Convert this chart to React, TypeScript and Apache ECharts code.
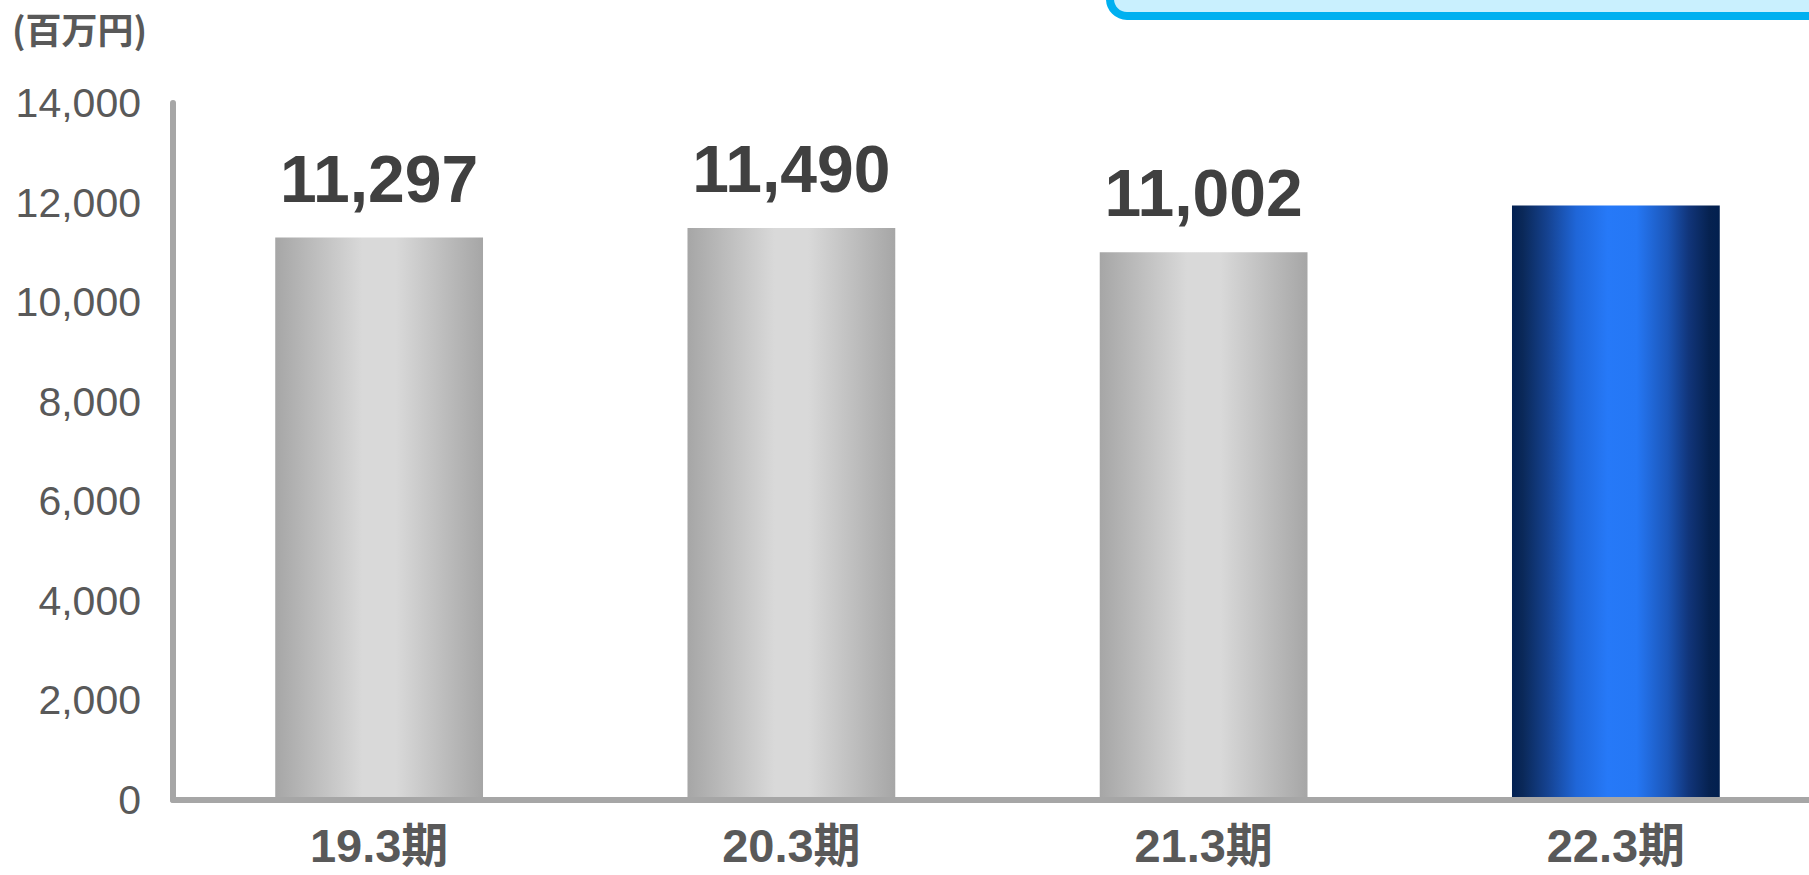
import React, { useEffect, useRef } from "react";
import * as echarts from "echarts";

const categories = ["19.3期", "20.3期", "21.3期", "22.3期"];
const values = [11297, 11490, 11002, 11940];
const showValueLabel = [true, true, true, false];
const highlightIndex = 3;
const yMin = 0;
const yMax = 14000;
const yInterval = 2000;
const unitLabel = "(百万円)";

const fmt = (v: number) => String(v).replace(/\B(?=(\d{3})+(?!\d))/g, ",");

const grayGrad = {
  type: "linear",
  x: 0,
  y: 0,
  x2: 1,
  y2: 0,
  colorStops: [
    { offset: 0, color: "#a6a6a6" },
    { offset: 0.42, color: "#d9d9d9" },
    { offset: 0.58, color: "#d9d9d9" },
    { offset: 1, color: "#a6a6a6" },
  ],
};

const blueGrad = {
  type: "linear",
  x: 0,
  y: 0,
  x2: 1,
  y2: 0,
  colorStops: [
    { offset: 0, color: "#022052" },
    { offset: 0.05, color: "#0a2858" },
    { offset: 0.17, color: "#154290" },
    { offset: 0.31, color: "#1f66d8" },
    { offset: 0.46, color: "#2679f8" },
    { offset: 0.6, color: "#2577f4" },
    { offset: 0.75, color: "#1b56b8" },
    { offset: 0.85, color: "#11357a" },
    { offset: 0.95, color: "#062250" },
    { offset: 1, color: "#02204f" },
  ],
};

export default function App() {
  const ref = useRef<HTMLDivElement>(null);
  useEffect(() => {
    document.body.style.margin = "0";
    document.body.style.overflow = "hidden";
    if (!ref.current) return;
    const chart = echarts.init(ref.current, null, { renderer: "svg" });
    chart.setOption({
      animation: false,
      backgroundColor: "#ffffff",
      grid: { left: 173, top: 103, right: 0, bottom: 75, containLabel: false },
      graphic: [
        {
          type: "rect",
          shape: { x: 1110, y: -60, width: 800, height: 76, r: 17 },
          style: { fill: "#c9f0fe", stroke: "#00b0f0", lineWidth: 8 },
          z: 1,
        },
        {
          type: "text",
          left: 12,
          top: 10,
          style: {
            text: unitLabel,
            fontSize: 36,
            fontWeight: "bold",
            fill: "#595959",
            fontFamily: "'Noto Sans CJK JP', 'Liberation Sans', sans-serif",
          },
        },
      ],
      xAxis: {
        type: "category",
        data: categories,
        z: 5,
        axisLine: { show: true, lineStyle: { color: "#a6a6a6", width: 6 } },
        axisTick: { show: false },
        axisLabel: {
          fontSize: 47,
          lineHeight: 40,
          fontWeight: "bold",
          color: "#595959",
          margin: 25,
          fontFamily: "'Liberation Sans', 'Noto Sans CJK JP', sans-serif",
        },
        splitLine: { show: false },
      },
      yAxis: {
        type: "value",
        min: yMin,
        max: yMax,
        interval: yInterval,
        axisLine: { show: true, lineStyle: { color: "#a6a6a6", width: 6 } },
        axisTick: { show: false },
        splitLine: { show: false },
        axisLabel: {
          fontSize: 41,
          color: "#595959",
          margin: 32,
          fontFamily: "'Liberation Sans', sans-serif",
          formatter: (v: number) => fmt(v),
        },
      },
      series: [
        {
          type: "bar",
          barWidth: "50.4%",
          data: values.map((v, i) => ({
            value: v,
            itemStyle: { color: i === highlightIndex ? blueGrad : grayGrad },
            label: { show: showValueLabel[i] },
          })),
          label: {
            show: true,
            position: "top",
            distance: 26,
            fontSize: 66,
            lineHeight: 66,
            fontWeight: "bold",
            color: "#404040",
            fontFamily: "'Liberation Sans', sans-serif",
            formatter: (p: any) => fmt(p.value),
          },
        },
      ],
    });
    return () => chart.dispose();
  }, []);
  return (
    <div
      ref={ref}
      style={{ position: "fixed", left: 0, top: 0, width: 1822, height: 875 }}
    />
  );
}
